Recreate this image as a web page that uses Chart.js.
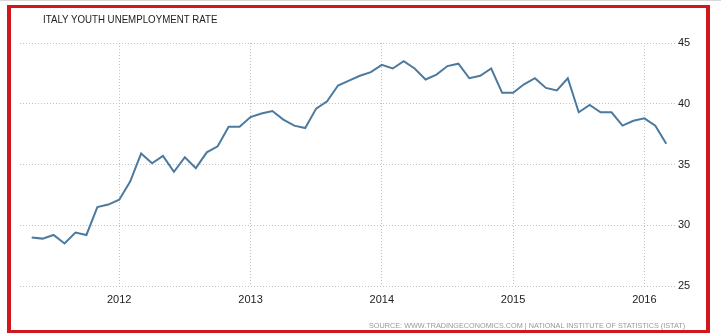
<!DOCTYPE html>
<html>
<head>
<meta charset="utf-8">
<title>Italy Youth Unemployment Rate</title>
<script src="https://cdn.jsdelivr.net/npm/chart.js@4.4.1/dist/chart.umd.min.js"></script>
<style>
  html, body { margin: 0; padding: 0; background: #fff; }
  body { width: 721px; height: 336px; position: relative; overflow: hidden; font-family: "Liberation Sans", Arial, sans-serif; }
  #topRule { position: absolute; left: 0; top: 0; width: 721px; height: 1px; background: #d8d8d8; }
  #frame { position: absolute; left: 7px; top: 5px; width: 703px; height: 328px; box-sizing: border-box;
           border: 3px solid #d0181c; border-left-width: 4px; border-right-width: 4px; }
  #rateChart { position: absolute; left: 0; top: 0; }
  #chartTitle { position: absolute; left: 43px; top: 14px; font-size: 11px; line-height: 11px; color: #222;
                white-space: nowrap; transform-origin: 0 0; }
  #chartSource { position: absolute; right: 36px; top: 322px; font-size: 8px; line-height: 8px; color: #999;
                 white-space: nowrap; transform-origin: 100% 0; }
</style>
</head>
<body>
<div id="topRule"></div>
<div id="frame"></div>
<canvas id="rateChart" width="721" height="336"></canvas>
<div id="chartTitle">ITALY YOUTH UNEMPLOYMENT RATE</div>
<div id="chartSource">SOURCE: WWW.TRADINGECONOMICS.COM | NATIONAL INSTITUTE OF STATISTICS (ISTAT)</div>
<script>
// monthly readings, May 2011 - Mar 2016
const months = [
  "2011-05", "2011-06", "2011-07", "2011-08", "2011-09", "2011-10", "2011-11", "2011-12",
  "2012-01", "2012-02", "2012-03", "2012-04", "2012-05", "2012-06",
  "2012-07", "2012-08", "2012-09", "2012-10", "2012-11", "2012-12",
  "2013-01", "2013-02", "2013-03", "2013-04", "2013-05", "2013-06",
  "2013-07", "2013-08", "2013-09", "2013-10", "2013-11", "2013-12",
  "2014-01", "2014-02", "2014-03", "2014-04", "2014-05", "2014-06",
  "2014-07", "2014-08", "2014-09", "2014-10", "2014-11", "2014-12",
  "2015-01", "2015-02", "2015-03", "2015-04", "2015-05", "2015-06",
  "2015-07", "2015-08", "2015-09", "2015-10", "2015-11", "2015-12",
  "2016-01", "2016-02", "2016-03",
];
const youthRate = [
  29.0, 28.9, 29.2, 28.5, 29.4, 29.2, 31.5, 31.7,
  32.1, 33.6, 35.9, 35.1, 35.7, 34.4,
  35.6, 34.7, 36.0, 36.5, 38.1, 38.1,
  38.9, 39.2, 39.4, 38.7, 38.2, 38.0,
  39.6, 40.2, 41.5, 41.9, 42.3, 42.6,
  43.2, 42.9, 43.5, 42.9, 42.0, 42.4,
  43.1, 43.3, 42.1, 42.3, 42.9, 40.9,
  40.9, 41.6, 42.1, 41.3, 41.1, 42.1,
  39.3, 39.9, 39.3, 39.3, 38.2, 38.6,
  38.8, 38.2, 36.7,
];
const yearTicks = ["2012", "2013", "2014", "2015", "2016"];
const rateTicks = [25, 30, 35, 40, 45];

// squeeze the captions to the narrow face the page uses
function squeeze(id, width) {
  const el = document.getElementById(id);
  el.style.transform = "scaleX(" + (width / el.offsetWidth) + ")";
}
squeeze("chartTitle", 174);
squeeze("chartSource", 316);

Chart.defaults.font.family = '"Liberation Sans", Arial, sans-serif';

const points = youthRate.map((v, i) => ({ x: i, y: v }));
const gridColor = "#c2c2c2";

let ctx = document.getElementById("rateChart").getContext("2d");

let rateChart = new Chart(ctx, {
  type: "line",
  data: {
    datasets: [
      {
        label: "Youth unemployment rate",
        data: points,
        borderColor: "#4c7a9f",
        borderWidth: 2,
        pointRadius: 0,
        tension: 0,
        fill: false,
      },
    ],
  },
  options: {
    responsive: false,
    animation: false,
    devicePixelRatio: 1,
    layout: { padding: { left: 20, top: 43, right: 0, bottom: 0 } },
    plugins: {
      legend: { display: false },
      tooltip: { enabled: false },
    },
    scales: {
      x: {
        type: "linear",
        min: -1.07,
        max: 58.8,
        afterBuildTicks: (axis) => {
          axis.ticks = yearTicks.map((y) => ({ value: months.indexOf(y + "-01") }));
        },
        afterFit: (axis) => {
          axis.height = 50;
        },
        ticks: {
          color: "#222",
          font: { size: 11 },
          padding: 7,
          maxRotation: 0,
          callback: (value) => months[value].slice(0, 4),
        },
        grid: { color: gridColor, drawTicks: false },
        border: { display: false, dash: [1, 2] },
      },
      y: {
        position: "right",
        min: 25,
        max: 45,
        afterBuildTicks: (axis) => {
          axis.ticks = rateTicks.map((v) => ({ value: v }));
        },
        afterFit: (axis) => {
          axis.width = 46;
        },
        ticks: {
          color: "#222",
          font: { size: 11 },
          padding: 3,
        },
        grid: { color: gridColor, drawTicks: false },
        border: { display: false, dash: [1, 2] },
      },
    },
  },
});
</script>
</body>
</html>
